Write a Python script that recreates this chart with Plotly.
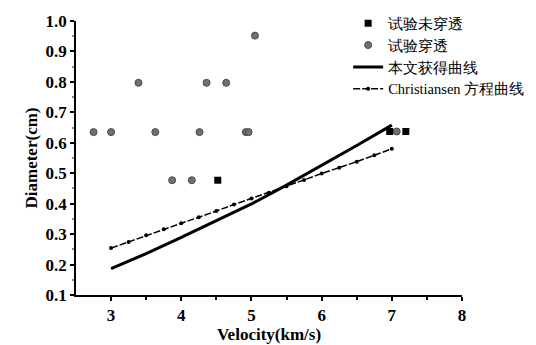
import plotly.graph_objects as go

# 试验未穿透 (not perforated)
np_x = [4.52, 6.97, 7.2]
np_y = [0.477, 0.637, 0.637]

# 试验穿透 (perforated)
p_x = [2.75, 3.0, 3.39, 3.63, 3.87, 4.15, 4.26, 4.36, 4.64, 4.92, 4.96, 5.05, 7.07]
p_y = [0.635, 0.635, 0.797, 0.635, 0.477, 0.477, 0.635, 0.797, 0.797, 0.635, 0.635, 0.952, 0.637]

# 本文获得曲线
fit_x = [3.0, 3.5, 4.0, 4.5, 5.0, 5.5, 6.0, 6.5, 7.0]
fit_y = [0.187, 0.236, 0.289, 0.343, 0.399, 0.461, 0.525, 0.591, 0.658]

# Christiansen 方程曲线
ch_x = [3.0, 3.25, 3.5, 3.75, 4.0, 4.25, 4.5, 4.75, 5.0, 5.25, 5.5, 5.75, 6.0, 6.25, 6.5, 6.75, 7.0]
ch_y = [0.254, 0.274, 0.296, 0.316, 0.336, 0.355, 0.376, 0.397, 0.417, 0.436, 0.457, 0.478, 0.499, 0.518, 0.538, 0.559, 0.580]

SERIF = "Liberation Serif"

fig = go.Figure()
fig.add_trace(go.Scatter(x=fit_x, y=fit_y, mode="lines", name="本文获得曲线",
                         line=dict(color="black", width=3), legendrank=3))
fig.add_trace(go.Scatter(x=ch_x, y=ch_y, mode="lines+markers", name="Christiansen 方程曲线",
                         line=dict(color="black", width=1.5, dash="7px,2px"),
                         marker=dict(color="black", size=4), legendrank=4))
fig.add_trace(go.Scatter(x=p_x, y=p_y, mode="markers", name="试验穿透",
                         marker=dict(color="#707070", size=7, symbol="circle",
                                     line=dict(color="#4a4a4a", width=1)), legendrank=2))
fig.add_trace(go.Scatter(x=np_x, y=np_y, mode="markers", name="试验未穿透",
                         marker=dict(color="black", size=7, symbol="square"), legendrank=1))

axis_common = dict(
    showline=True, linecolor="black", linewidth=1.5, mirror=False,
    ticks="outside", ticklen=4, tickwidth=2, tickcolor="black",
    showgrid=False, zeroline=False,
    tickfont=dict(family=SERIF, size=17, color="black"),
)

fig.update_xaxes(range=[2.5, 8], tickvals=[3, 4, 5, 6, 7, 8],
                 ticktext=["<b>3</b>", "<b>4</b>", "<b>5</b>", "<b>6</b>", "<b>7</b>", "<b>8</b>"],
                 minor=dict(tickvals=[3.5, 4.5, 5.5, 6.5, 7.5], ticks="outside", ticklen=3, tickcolor="black"),
                 title=dict(text="<b>Velocity(km/s)</b>", font=dict(family=SERIF, size=17, color="black"), standoff=2),
                 **axis_common)
fig.update_yaxes(range=[0.1, 1.0], tickvals=[0.1, 0.2, 0.3, 0.4, 0.5, 0.6, 0.7, 0.8, 0.9, 1.0],
                 ticktext=["<b>0.1</b>", "<b>0.2</b>", "<b>0.3</b>", "<b>0.4</b>", "<b>0.5</b>",
                           "<b>0.6</b>", "<b>0.7</b>", "<b>0.8</b>", "<b>0.9</b>", "<b>1.0</b>"],
                 minor=dict(tickvals=[0.15, 0.25, 0.35, 0.45, 0.55, 0.65, 0.75, 0.85, 0.95], ticks="outside", ticklen=2, tickcolor="#888888"),
                 title=dict(text="<b>Diameter(cm)</b>", font=dict(family=SERIF, size=17, color="black"), standoff=4),
                 **axis_common)

fig.update_layout(
    width=528, height=337,
    margin=dict(l=68, r=74, t=13, b=50, autoexpand=False),
    plot_bgcolor="white", paper_bgcolor="white",
    font=dict(family=SERIF),
    showlegend=True,
    legend=dict(x=0.705, y=1.05, xanchor="left", yanchor="top",
                bgcolor="rgba(0,0,0,0)", tracegroupgap=0,
                font=dict(family=SERIF, size=14.5, color="black"),
                itemwidth=30),
)

fig.write_html("out.html")
